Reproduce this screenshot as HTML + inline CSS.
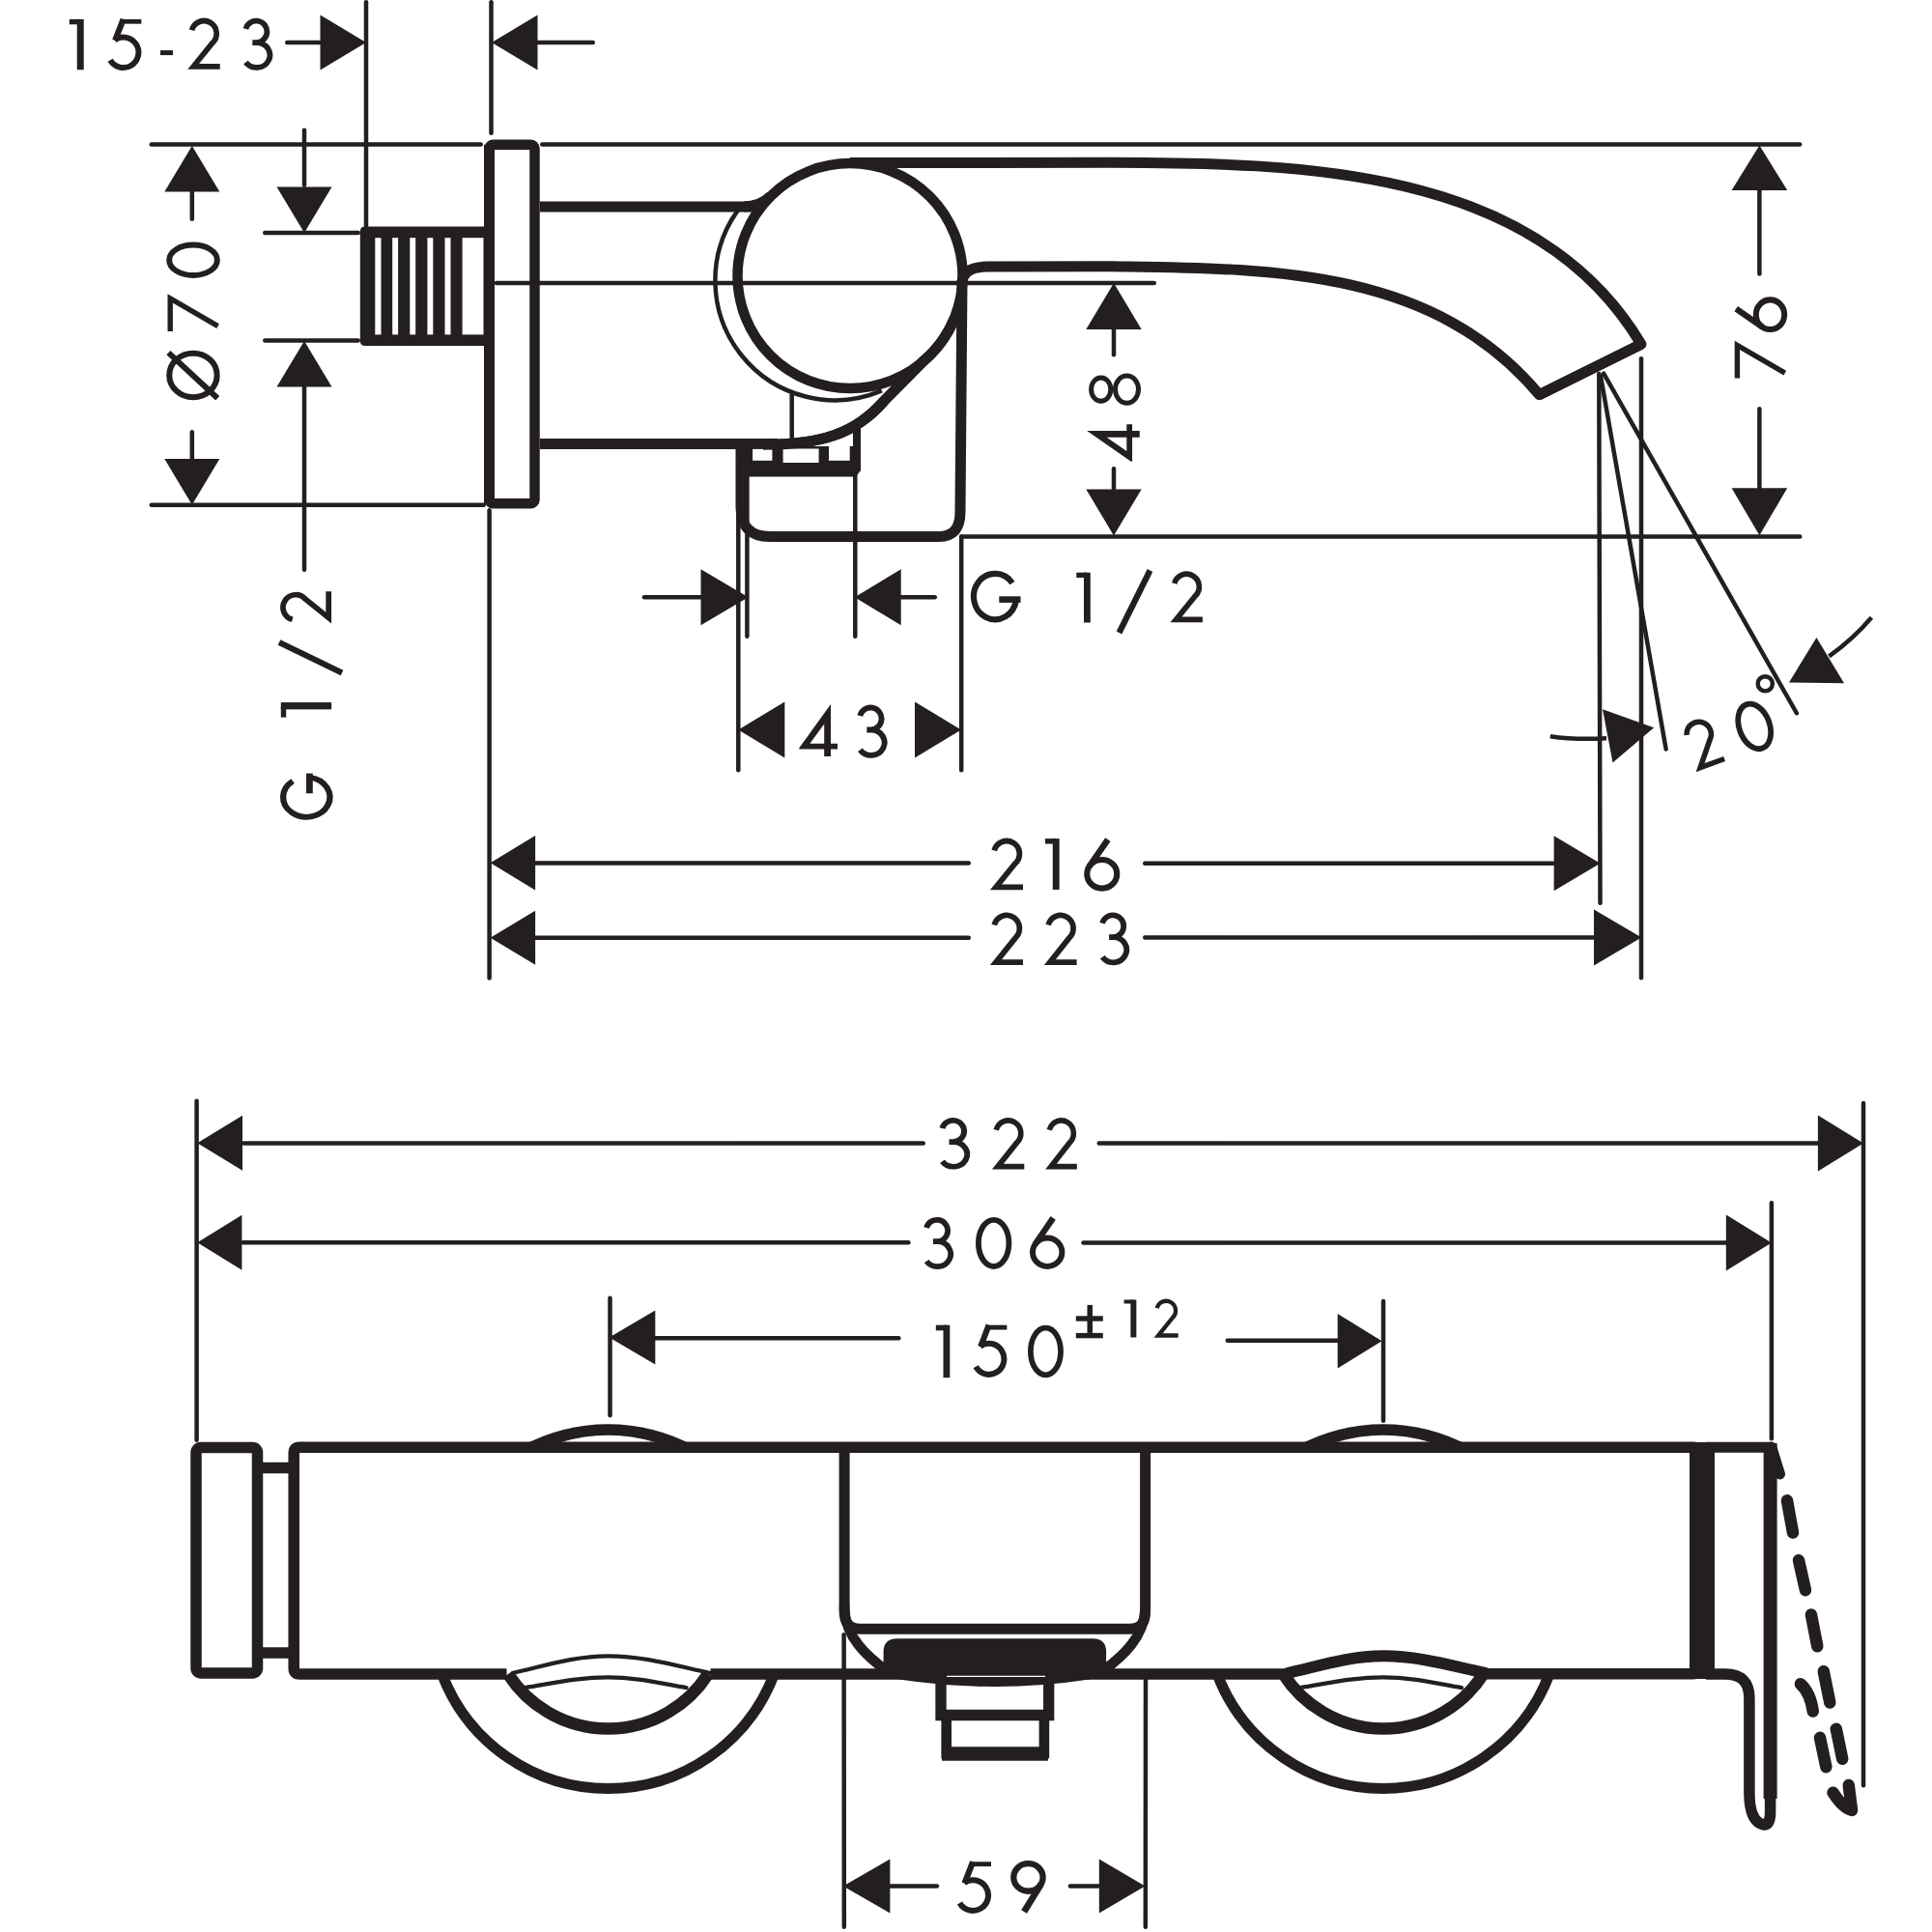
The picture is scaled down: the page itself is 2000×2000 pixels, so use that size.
<!DOCTYPE html>
<html><head><meta charset="utf-8"><style>
html,body{margin:0;padding:0;background:#fff;width:2000px;height:2000px;overflow:hidden;font-family:"Liberation Sans",sans-serif;}
svg{display:block;}
</style></head><body>
<svg xmlns="http://www.w3.org/2000/svg" width="2000" height="2000" viewBox="0 0 2000 2000">
<rect width="2000" height="2000" fill="#fff"/>
<g fill="none" stroke="#231f20" stroke-linecap="butt" stroke-linejoin="miter">
<g fill="#231f20" stroke="none" id="solid"></g>
<g transform="translate(71.8,19.9) scale(1.03,0.98)"><rect x="0" y="0" width="11" height="5.5" fill="#231f20" stroke="none"/><rect x="7.7" y="0" width="6.8" height="53.4" fill="#231f20" stroke="none"/></g>
<g transform="translate(110.9,19.9) scale(0.99,0.99)"><rect x="14.7" y="0" width="21.1" height="4.8" fill="#231f20" stroke="none"/><path d="M16.9,0 L8.31,22.27" stroke-width="6.2"/><path d="M7.91,21.77 A15.85,15.85 0 1 1 3.27,42.67" stroke-width="6"/></g>
<g transform="translate(166,19.9)"><rect x="0" y="32.2" width="13" height="5" fill="#231f20" stroke="none"/></g>
<g transform="translate(194.2,18.7) scale(0.98,0.99)"><path d="M4.45,12.76 A13.3,13.3 0 1 1 26.2,26.08 L6.2,50.6 H34.2" stroke-width="5.8" stroke-linejoin="miter" stroke-miterlimit="4"/></g>
<g transform="translate(250.7,18.7) scale(1,0.99)"><path d="M3.68,11.31 A11.2,11.35 0 1 1 14.5,25.6 H10.6 M10.6,25.6 H15 A13.7,13.1 0 1 1 3.78,46.21" stroke-width="5.8"/></g>
<line x1="297.25" y1="44" x2="330.75" y2="44" stroke-width="4.5" stroke-linecap="round"/>
<polygon fill="#231f20" stroke="none" points="379,44 331.5,15.5 331.5,72.5"/>
<line x1="379" y1="2.25" x2="379" y2="233.75" stroke-width="4.5" stroke-linecap="round"/>
<line x1="508.5" y1="2.25" x2="508.5" y2="137.75" stroke-width="4.5" stroke-linecap="round"/>
<polygon fill="#231f20" stroke="none" points="509,44 556.5,15.5 556.5,72.5"/>
<line x1="557.25" y1="44" x2="613.75" y2="44" stroke-width="4.5" stroke-linecap="round"/>
<line x1="156.75" y1="149.5" x2="497.75" y2="149.5" stroke-width="4.5" stroke-linecap="round"/>
<line x1="561.25" y1="149.5" x2="1863.25" y2="149.5" stroke-width="4.5" stroke-linecap="round"/>
<line x1="156.75" y1="522.7" x2="500.75" y2="522.7" stroke-width="4.5" stroke-linecap="round"/>
<polygon fill="#231f20" stroke="none" points="198.8,151 170.3,198.5 227.3,198.5"/>
<line x1="198.8" y1="198.25" x2="198.8" y2="226.75" stroke-width="4.5" stroke-linecap="round"/>
<g transform="translate(172.2,414.3) rotate(-90)"><ellipse cx="25.85" cy="27.75" rx="22.8" ry="24.7" stroke-width="6"/><path d="M49.2,2.2 L2,53" stroke-width="6"/></g>
<g transform="translate(173.6,343) rotate(-90) scale(1,1)"><path d="M0,2.6 H34 L5.3,52" stroke-width="5.4" stroke-linejoin="miter" stroke-miterlimit="5"/></g>
<g transform="translate(172.2,287.9) rotate(-90) scale(1,1.03)"><ellipse cx="18.65" cy="27" rx="15.75" ry="24.1" stroke-width="5.8"/></g>
<line x1="198.8" y1="447.25" x2="198.8" y2="474.75" stroke-width="4.5" stroke-linecap="round"/>
<polygon fill="#231f20" stroke="none" points="198.8,522.6 170.3,475.1 227.3,475.1"/>
<line x1="315" y1="134.75" x2="315" y2="191.75" stroke-width="4.5" stroke-linecap="round"/>
<polygon fill="#231f20" stroke="none" points="315,241 286.5,193.5 343.5,193.5"/>
<line x1="274.25" y1="241" x2="370.75" y2="241" stroke-width="4.5" stroke-linecap="round"/>
<line x1="274.25" y1="352.5" x2="370.75" y2="352.5" stroke-width="4.5" stroke-linecap="round"/>
<polygon fill="#231f20" stroke="none" points="315,353 286.5,400.5 343.5,400.5"/>
<line x1="315" y1="400.25" x2="315" y2="589.75" stroke-width="4.5" stroke-linecap="round"/>
<g transform="translate(290.1,645.7) rotate(-90) scale(0.98,0.99)"><path d="M4.45,12.76 A13.3,13.3 0 1 1 26.2,26.08 L6.2,50.6 H34.2" stroke-width="5.8" stroke-linejoin="miter" stroke-miterlimit="4"/></g>
<path d="M289,665 L354,696.5" stroke-width="6.2"/>
<g transform="translate(290.8,742.6) rotate(-90) scale(1.07,0.98)"><rect x="0" y="0" width="11" height="5.5" fill="#231f20" stroke="none"/><rect x="7.7" y="0" width="6.8" height="53.4" fill="#231f20" stroke="none"/></g>
<g transform="translate(290.1,848.8) rotate(-90) scale(0.93,1.02)"><path d="M43.28,12.72 A22.1,23.7 0 1 0 47.23,30.36" stroke-width="6.2"/><rect x="29.6" y="26.4" width="22.2" height="6.6" fill="#231f20" stroke="none"/></g>
<rect x="506.5" y="149.8" width="47" height="371.5" rx="4" stroke-width="10.5"/>
<path d="M378,234.6 H503 V358 H378 Q372.8,358 372.8,352.8 V239.8 Q372.8,234.6 378,234.6 Z" fill="#231f20" stroke="none"/>
<rect x="388.3" y="246.2" width="6.2" height="100.2" fill="#fff" stroke="none"/>
<rect x="406.2" y="246.2" width="5.9" height="100.2" fill="#fff" stroke="none"/>
<rect x="424.3" y="246.2" width="5.9" height="100.2" fill="#fff" stroke="none"/>
<rect x="442.4" y="246.2" width="5.9" height="100.2" fill="#fff" stroke="none"/>
<rect x="460.5" y="246.2" width="6" height="100.2" fill="#fff" stroke="none"/>
<rect x="478.6" y="246.2" width="21.9" height="100.2" fill="#fff" stroke="none"/>
<line x1="506.5" y1="149.8" x2="506.5" y2="521.3" stroke-width="11"/>
<line x1="513.95" y1="293" x2="1194.75" y2="293" stroke-width="4.5" stroke-linecap="round"/>
<line x1="559" y1="214" x2="780" y2="214" stroke-width="11"/>
<line x1="559" y1="459.6" x2="805" y2="459.6" stroke-width="11"/>
<path d="M770,214 Q786.8,214 797.6,203.2" stroke-width="11"/>
<circle cx="880" cy="285.6" r="116.5" stroke-width="10.5"/>
<path d="M764.08,217.41 A124,124 0 0 0 912.85,404.44" stroke-width="4.5"/>
<path d="M988,330 A116.5,116.5 0 0 1 954.9,374.8 C940,390 925,405 915.3,414.8 C885.9,448.9 850,460.3 790,460.3" stroke-width="11"/>
<path d="M880,168.6 L1150,168.3 C1340.1,169 1588.6,170.8 1698.9,356.3 L1593.6,408.7" stroke-width="11" stroke-linejoin="round"/>
<path d="M996,292 Q997,276 1023,276 L1150,275.8 C1309.1,278.1 1482.4,275.6 1593.6,408.7 L1698.9,356.3" stroke-width="11" stroke-linejoin="round"/>
<path d="M996,290 L994,530 Q994,555.5 972,555.5 L797,555.5 Q767,555.5 767,525 L767,464" stroke-width="11"/>
<line x1="819.7" y1="408.25" x2="819.7" y2="452.75" stroke-width="4.5" stroke-linecap="round"/>
<path d="M762,462 H891 V487 L886,493.5 H768 L762,487 Z" fill="#231f20" stroke="none"/>
<path d="M883,442 L891,438 V465 H883 Z" fill="#231f20" stroke="none"/>
<rect x="779.1" y="464.9" width="20.3" height="11.9" fill="#fff" stroke="none"/>
<rect x="810.6" y="464.5" width="37" height="14.5" fill="#fff" stroke="none"/>
<rect x="858" y="460" width="21.7" height="16.8" fill="#fff" stroke="none"/>
<path d="M915.3,414.8 C885.9,448.9 850,460.3 790,460.3" stroke-width="11"/>
<line x1="764.3" y1="489.25" x2="764.3" y2="797.25" stroke-width="4.5" stroke-linecap="round"/>
<line x1="773.4" y1="489.25" x2="773.4" y2="658.75" stroke-width="4.5" stroke-linecap="round"/>
<line x1="885.3" y1="489.25" x2="885.3" y2="658.75" stroke-width="4.5" stroke-linecap="round"/>
<line x1="995.2" y1="555.25" x2="995.2" y2="797.25" stroke-width="4.5" stroke-linecap="round"/>
<line x1="997.25" y1="555.6" x2="1863.25" y2="555.6" stroke-width="4.5" stroke-linecap="round"/>
<line x1="666.95" y1="618.3" x2="725.75" y2="618.3" stroke-width="4.5" stroke-linecap="round"/>
<polygon fill="#231f20" stroke="none" points="774.7,618.3 725.5,589.3 725.5,647.3"/>
<polygon fill="#231f20" stroke="none" points="884.7,618.3 932.7,589.3 932.7,647.3"/>
<line x1="932.25" y1="618.3" x2="967.75" y2="618.3" stroke-width="4.5" stroke-linecap="round"/>
<g transform="translate(1004.7,590.9)"><path d="M43.28,12.72 A22.1,23.7 0 1 0 47.23,30.36" stroke-width="6.2"/><rect x="29.6" y="26.4" width="22.2" height="6.6" fill="#231f20" stroke="none"/></g>
<g transform="translate(1114.3,592.7) scale(1,0.97)"><rect x="0" y="0" width="11" height="5.5" fill="#231f20" stroke="none"/><rect x="7.7" y="0" width="6.8" height="53.4" fill="#231f20" stroke="none"/></g>
<path d="M1190.5,590.5 L1158.5,655" stroke-width="6.2"/>
<g transform="translate(1211.4,591.4) scale(0.98,0.99)"><path d="M4.45,12.76 A13.3,13.3 0 1 1 26.2,26.08 L6.2,50.6 H34.2" stroke-width="5.8" stroke-linejoin="miter" stroke-miterlimit="4"/></g>
<polygon fill="#231f20" stroke="none" points="764.3,755.5 812.3,726.5 812.3,784.5"/>
<polygon fill="#231f20" stroke="none" points="995,755.5 947,726.5 947,784.5"/>
<g transform="translate(827.3,729.1)"><path d="M0,45.2 L32.7,0 V40.7 H39.7 V46.4 H32.7 V54 H25.9 V46.4 H0 Z M11.1,40.7 L25.9,20.3 V40.7 Z" fill="#231f20" fill-rule="evenodd" stroke="none"/></g>
<g transform="translate(886.6,729.6) scale(1.01,1.01)"><path d="M3.68,11.31 A11.2,11.35 0 1 1 14.5,25.6 H10.6 M10.6,25.6 H15 A13.7,13.1 0 1 1 3.78,46.21" stroke-width="5.8"/></g>
<polygon fill="#231f20" stroke="none" points="1153,293 1124.3,341 1181.7,341"/>
<line x1="1153" y1="341.25" x2="1153" y2="367.15" stroke-width="4.5" stroke-linecap="round"/>
<g transform="translate(1125.2,477.8) rotate(-90) scale(0.97,1.01)"><path d="M0,45.2 L32.7,0 V40.7 H39.7 V46.4 H32.7 V54 H25.9 V46.4 H0 Z M11.1,40.7 L25.9,20.3 V40.7 Z" fill="#231f20" fill-rule="evenodd" stroke="none"/></g>
<g transform="translate(1127.1,419.7) rotate(-90)"><ellipse cx="16.6" cy="12.6" rx="12.2" ry="10.1" stroke-width="5"/><ellipse cx="16.6" cy="39.4" rx="14.1" ry="12" stroke-width="5"/></g>
<line x1="1153" y1="485.25" x2="1153" y2="505.75" stroke-width="4.5" stroke-linecap="round"/>
<polygon fill="#231f20" stroke="none" points="1153,554.4 1124.3,506.4 1181.7,506.4"/>
<polygon fill="#231f20" stroke="none" points="1821.4,150.5 1792.6,197 1850.2,197"/>
<line x1="1821.4" y1="197.25" x2="1821.4" y2="283.55" stroke-width="4.5" stroke-linecap="round"/>
<g transform="translate(1795.8,391.5) rotate(-90) scale(1,1)"><path d="M0,2.6 H34 L5.3,52" stroke-width="5.4" stroke-linejoin="miter" stroke-miterlimit="5"/></g>
<g transform="translate(1795.4,344.1) rotate(-90) scale(1.01,1)"><ellipse cx="18.2" cy="37.1" rx="15.2" ry="14.7" stroke-width="6"/><path d="M24.2,1.8 L5.4,29.2" stroke-width="6.3"/></g>
<line x1="1821.4" y1="423.25" x2="1821.4" y2="504.75" stroke-width="4.5" stroke-linecap="round"/>
<polygon fill="#231f20" stroke="none" points="1821.4,554.2 1792.6,505.2 1850.2,505.2"/>
<line x1="1655.3" y1="386.95" x2="1656.5" y2="934.75" stroke-width="4.5" stroke-linecap="round"/>
<line x1="1699" y1="371.25" x2="1699" y2="1012.25" stroke-width="4.5" stroke-linecap="round"/>
<line x1="1656.99" y1="389.22" x2="1724.61" y2="775.48" stroke-width="4.5" stroke-linecap="round"/>
<line x1="1660.11" y1="386.66" x2="1859.89" y2="738.24" stroke-width="4.5" stroke-linecap="round"/>
<path d="M1604.8,762.2 Q1630,766 1663,764.3" stroke-width="4.5"/>
<polygon fill="#231f20" stroke="none" points="1659,734.3 1712.2,753.2 1669.5,789.4"/>
<path d="M1937.4,639.3 Q1918,662 1893.4,679.4" stroke-width="4.5"/>
<polygon fill="#231f20" stroke="none" points="1880.4,660 1852,706.6 1909,707.3"/>
<g transform="translate(1762,769.5) rotate(-20) scale(0.95,0.96) translate(-17.1,-26.7)"><path d="M4.45,12.76 A13.3,13.3 0 1 1 26.2,26.08 L6.2,50.6 H34.2" stroke-width="5.8" stroke-linejoin="miter" stroke-miterlimit="4"/></g>
<g transform="translate(1816.2,751.9) rotate(-20) translate(-18.65,-27)"><ellipse cx="18.65" cy="27" rx="15.75" ry="24.1" stroke-width="5.8"/></g>
<circle cx="1827.3" cy="707.8" r="7.6" stroke-width="4.4"/>
<line x1="506.6" y1="528.25" x2="506.6" y2="1012.45" stroke-width="4.5" stroke-linecap="round"/>
<polygon fill="#231f20" stroke="none" points="507.5,893.3 554.1,865.1 554.1,921.5"/>
<line x1="554.25" y1="893.5" x2="1002.75" y2="893.5" stroke-width="4.5" stroke-linecap="round"/>
<g transform="translate(1024.8,867.7)"><path d="M4.45,12.76 A13.3,13.3 0 1 1 26.2,26.08 L6.2,50.6 H34.2" stroke-width="5.8" stroke-linejoin="miter" stroke-miterlimit="4"/></g>
<g transform="translate(1082,868.1) scale(1.01,0.99)"><rect x="0" y="0" width="11" height="5.5" fill="#231f20" stroke="none"/><rect x="7.7" y="0" width="6.8" height="53.4" fill="#231f20" stroke="none"/></g>
<g transform="translate(1122.2,867.3) scale(1.02,1.01)"><ellipse cx="18.2" cy="37.1" rx="15.2" ry="14.7" stroke-width="6"/><path d="M24.2,1.8 L5.4,29.2" stroke-width="6.3"/></g>
<line x1="1185.25" y1="893.7" x2="1608.75" y2="893.7" stroke-width="4.5" stroke-linecap="round"/>
<polygon fill="#231f20" stroke="none" points="1656.6,893.7 1608.6,865.2 1608.6,922.2"/>
<polygon fill="#231f20" stroke="none" points="507.5,970.7 554.1,942.7 554.1,998.7"/>
<line x1="554.25" y1="970.8" x2="1002.75" y2="970.8" stroke-width="4.5" stroke-linecap="round"/>
<g transform="translate(1024.8,944.5) scale(1,1.02)"><path d="M4.45,12.76 A13.3,13.3 0 1 1 26.2,26.08 L6.2,50.6 H34.2" stroke-width="5.8" stroke-linejoin="miter" stroke-miterlimit="4"/></g>
<g transform="translate(1080.8,944.5) scale(0.99,1.02)"><path d="M4.45,12.76 A13.3,13.3 0 1 1 26.2,26.08 L6.2,50.6 H34.2" stroke-width="5.8" stroke-linejoin="miter" stroke-miterlimit="4"/></g>
<g transform="translate(1137.5,944.5)"><path d="M3.68,11.31 A11.2,11.35 0 1 1 14.5,25.6 H10.6 M10.6,25.6 H15 A13.7,13.1 0 1 1 3.78,46.21" stroke-width="5.8"/></g>
<line x1="1185.25" y1="970.5" x2="1649.75" y2="970.5" stroke-width="4.5" stroke-linecap="round"/>
<polygon fill="#231f20" stroke="none" points="1699.3,970.5 1650,941.5 1650,999.5"/>
<line x1="203.6" y1="1139.75" x2="203.6" y2="1490.75" stroke-width="4.5" stroke-linecap="round"/>
<line x1="1929" y1="1142.05" x2="1929" y2="1848.35" stroke-width="4.5" stroke-linecap="round"/>
<line x1="1833.9" y1="1245.25" x2="1833.9" y2="1489.15" stroke-width="4.5" stroke-linecap="round"/>
<polygon fill="#231f20" stroke="none" points="204.3,1183.3 251,1154.8 251,1211.8"/>
<line x1="252.25" y1="1183.4" x2="955.75" y2="1183.4" stroke-width="4.5" stroke-linecap="round"/>
<g transform="translate(971.6,1157) scale(1.03,0.98)"><path d="M3.68,11.31 A11.2,11.35 0 1 1 14.5,25.6 H10.6 M10.6,25.6 H15 A13.7,13.1 0 1 1 3.78,46.21" stroke-width="5.8"/></g>
<g transform="translate(1026.8,1157) scale(0.98,1)"><path d="M4.45,12.76 A13.3,13.3 0 1 1 26.2,26.08 L6.2,50.6 H34.2" stroke-width="5.8" stroke-linejoin="miter" stroke-miterlimit="4"/></g>
<g transform="translate(1082,1157) scale(0.96,1)"><path d="M4.45,12.76 A13.3,13.3 0 1 1 26.2,26.08 L6.2,50.6 H34.2" stroke-width="5.8" stroke-linejoin="miter" stroke-miterlimit="4"/></g>
<line x1="1137.75" y1="1183.5" x2="1881.75" y2="1183.5" stroke-width="4.5" stroke-linecap="round"/>
<polygon fill="#231f20" stroke="none" points="1929,1183.6 1881.9,1154.6 1881.9,1212.6"/>
<polygon fill="#231f20" stroke="none" points="204.3,1286.3 250.4,1257.8 250.4,1314.8"/>
<line x1="251.25" y1="1286.3" x2="940.35" y2="1286.3" stroke-width="4.5" stroke-linecap="round"/>
<g transform="translate(955.4,1259.9) scale(1,0.99)"><path d="M3.68,11.31 A11.2,11.35 0 1 1 14.5,25.6 H10.6 M10.6,25.6 H15 A13.7,13.1 0 1 1 3.78,46.21" stroke-width="5.8"/></g>
<g transform="translate(1010,1259.9) scale(1,1)"><ellipse cx="18.65" cy="27" rx="15.75" ry="24.1" stroke-width="5.8"/></g>
<g transform="translate(1066,1259.1)"><ellipse cx="18.2" cy="37.1" rx="15.2" ry="14.7" stroke-width="6"/><path d="M24.2,1.8 L5.4,29.2" stroke-width="6.3"/></g>
<line x1="1121.45" y1="1286.5" x2="1786.75" y2="1286.5" stroke-width="4.5" stroke-linecap="round"/>
<polygon fill="#231f20" stroke="none" points="1833.9,1286.5 1786.8,1257.5 1786.8,1315.5"/>
<line x1="631.5" y1="1343.65" x2="631.5" y2="1465.25" stroke-width="4.5" stroke-linecap="round"/>
<polygon fill="#231f20" stroke="none" points="630.7,1384.5 678.3,1356.5 678.3,1412.5"/>
<line x1="678.25" y1="1385.2" x2="930.35" y2="1385.2" stroke-width="4.5" stroke-linecap="round"/>
<g transform="translate(968.8,1371.7) scale(1,1.02)"><rect x="0" y="0" width="11" height="5.5" fill="#231f20" stroke="none"/><rect x="7.7" y="0" width="6.8" height="53.4" fill="#231f20" stroke="none"/></g>
<g transform="translate(1006.9,1371.7) scale(0.99,1.01)"><rect x="14.7" y="0" width="21.1" height="4.8" fill="#231f20" stroke="none"/><path d="M16.9,0 L8.31,22.27" stroke-width="6.2"/><path d="M7.91,21.77 A15.85,15.85 0 1 1 3.27,42.67" stroke-width="6"/></g>
<g transform="translate(1064,1371.7) scale(0.99,1.01)"><ellipse cx="18.65" cy="27" rx="15.75" ry="24.1" stroke-width="5.8"/></g>
<g transform="translate(1113.8,1350.9)"><rect x="11.7" y="0" width="5.5" height="29" fill="#231f20" stroke="none"/><rect x="0" y="11.4" width="28" height="5.4" fill="#231f20" stroke="none"/><rect x="0" y="29" width="28" height="5.4" fill="#231f20" stroke="none"/></g>
<g transform="translate(1163.6,1345.5) scale(0.88,0.73)"><rect x="0" y="0" width="11" height="5.5" fill="#231f20" stroke="none"/><rect x="7.7" y="0" width="6.8" height="53.4" fill="#231f20" stroke="none"/></g>
<g transform="translate(1194.4,1344.6) scale(0.74,0.75)"><path d="M4.45,12.76 A13.3,13.3 0 1 1 26.2,26.08 L6.2,50.6 H34.2" stroke-width="5.8" stroke-linejoin="miter" stroke-miterlimit="4"/></g>
<line x1="1270.75" y1="1387.7" x2="1384.75" y2="1387.7" stroke-width="4.5" stroke-linecap="round"/>
<polygon fill="#231f20" stroke="none" points="1430.5,1388.3 1384.7,1360.1 1384.7,1416.5"/>
<line x1="1432" y1="1347.05" x2="1432" y2="1470.75" stroke-width="4.5" stroke-linecap="round"/>
<rect x="203" y="1498.5" width="63.5" height="233.5" rx="5" stroke-width="11.5"/>
<line x1="266" y1="1519.4" x2="305" y2="1519.4" stroke-width="11.5"/>
<line x1="266" y1="1711" x2="305" y2="1711" stroke-width="11.5"/>
<path d="M540,1497 A186.9,186.9 0 0 1 719,1497 Z" fill="#231f20" stroke="none"/>
<path d="M580.7,1493 A171.4,171.4 0 0 1 678.3,1493 Z" fill="#fff" stroke="none"/>
<path d="M457.55,1733 A184,184 0 0 0 801.45,1733" stroke-width="11"/>
<path d="M526.03,1733 A123,123 0 0 0 732.97,1733" stroke-width="12.5"/>
<path d="M530.5,1732 C565.15,1724.04 594.85,1714.3 629.5,1714.3 C666.6,1714.3 698.4,1724.04 735.5,1732" stroke-width="4.3" stroke-linecap="round"/>
<path d="M543.5,1747.2 C573.6,1742.34 599.4,1736.4 629.5,1736.4 C657.85,1736.4 682.15,1742.34 710.5,1747.2" stroke-width="4.3" stroke-linecap="round"/>
<path d="M1342.5,1497 A186.9,186.9 0 0 1 1521.5,1497 Z" fill="#231f20" stroke="none"/>
<path d="M1383.2,1493 A171.4,171.4 0 0 1 1480.8,1493 Z" fill="#fff" stroke="none"/>
<path d="M1260.05,1733 A184,184 0 0 0 1603.95,1733" stroke-width="11"/>
<path d="M1328.53,1733 A123,123 0 0 0 1535.47,1733" stroke-width="12.5"/>
<path d="M1333,1732 C1367.65,1724.04 1397.35,1714.3 1432,1714.3 C1469.1,1714.3 1500.9,1724.04 1538,1732" stroke-width="12" stroke-linecap="round"/>
<path d="M1346,1747.2 C1376.1,1742.34 1401.9,1736.4 1432,1736.4 C1460.35,1736.4 1484.65,1742.34 1513,1747.2" stroke-width="4.3" stroke-linecap="round"/>
<path d="M310,1498.2 H1752 Q1761,1498.2 1761,1507 V1724 Q1761,1732.8 1752,1732.8 H1538" stroke-width="11.5"/>
<path d="M1333,1733 H735.5 M524.5,1733 H310 Q304.2,1733 304.2,1727 V1504 Q304.2,1498.2 310,1498.2" stroke-width="11.5"/>
<rect x="1749" y="1493" width="26" height="245" fill="#231f20" stroke="none"/>
<path d="M874.1,1498 V1668 Q874.1,1686.2 890,1686.2 H1170 Q1185.6,1686.2 1185.6,1668 V1498" stroke-width="11"/>
<path d="M874.1,1662 L874.1,1666 C875.7,1694.8 896.7,1714.2 918,1729.8" stroke-width="10.5"/>
<path d="M1185.6,1662 L1185.6,1666 C1184,1694.8 1163,1714.2 1141.7,1729.8" stroke-width="10.5"/>
<path d="M929,1696.3 H1131 Q1145.1,1696.3 1145.1,1710 V1722 Q1145.1,1733 1127.5,1738.6 Q1080,1746 1030,1746 Q980,1746 930.4,1738.6 Q914.6,1733 914.6,1722 V1710 Q914.6,1696.3 929,1696.3 Z" fill="#231f20" stroke="none"/>
<line x1="980" y1="1735.3" x2="1082" y2="1735.3" stroke="#fff" stroke-width="1.3"/>
<path d="M974,1740 V1775.5 H1085.7 V1740" stroke="#231f20" stroke-width="11.3"/>
<path d="M979.7,1776 V1815 H1080.9 V1776" stroke-width="10.6"/>
<line x1="975" y1="1815.5" x2="1085" y2="1815.5" stroke-width="14.5"/>
<line x1="873.6" y1="1692.25" x2="873.8" y2="1994.75" stroke-width="4.5" stroke-linecap="round"/>
<line x1="1186" y1="1737.25" x2="1185.8" y2="1994.75" stroke-width="4.5" stroke-linecap="round"/>
<polygon fill="#231f20" stroke="none" points="872.8,1952.5 921.4,1924.5 921.4,1980.5"/>
<line x1="921.25" y1="1952.5" x2="969.95" y2="1952.5" stroke-width="4.5" stroke-linecap="round"/>
<g transform="translate(990.2,1927.3)"><rect x="14.7" y="0" width="21.1" height="4.8" fill="#231f20" stroke="none"/><path d="M16.9,0 L8.31,22.27" stroke-width="6.2"/><path d="M7.91,21.77 A15.85,15.85 0 1 1 3.27,42.67" stroke-width="6"/></g>
<g transform="translate(1046.1,1926)"><ellipse cx="18.35" cy="17.45" rx="15.15" ry="14.3" stroke-width="6.3"/><path d="M31.6,24.5 L14,53" stroke-width="6.8"/></g>
<line x1="1107.95" y1="1952.5" x2="1137.75" y2="1952.5" stroke-width="4.5" stroke-linecap="round"/>
<polygon fill="#231f20" stroke="none" points="1185.4,1952.5 1137.8,1924.5 1137.8,1980.5"/>
<path d="M1766,1498.2 H1833" stroke-width="11"/>
<path d="M1833.8,1498 L1842.5,1526" stroke-width="11" stroke-linecap="round"/>
<path d="M1832.6,1494 V1876 Q1832.6,1889 1826,1889 Q1811,1886 1810.9,1856 V1758 Q1810.9,1733 1786,1733 H1766" stroke-width="11.5" stroke-linejoin="round"/>
<path d="M1832.6,1494 V1862" stroke-width="14"/>
<line x1="1850" y1="1553.3" x2="1856" y2="1586.7" stroke-width="12.5" stroke-linecap="round"/>
<line x1="1862" y1="1615.2" x2="1869" y2="1646.2" stroke-width="12.5" stroke-linecap="round"/>
<line x1="1874.9" y1="1671.4" x2="1881.3" y2="1704.3" stroke-width="12.5" stroke-linecap="round"/>
<line x1="1887.8" y1="1730.2" x2="1894.3" y2="1762.6" stroke-width="12.5" stroke-linecap="round"/>
<line x1="1900.8" y1="1789.8" x2="1907.2" y2="1820.8" stroke-width="12.5" stroke-linecap="round"/>
<line x1="1884" y1="1798.8" x2="1890.4" y2="1829.2" stroke-width="12.5" stroke-linecap="round"/>
<path d="M1863.9,1743.2 Q1874,1752 1876.8,1771.6" stroke-width="12.5" stroke-linecap="round"/>
<path d="M1897.5,1855.7 Q1908,1872 1917,1873.9 L1913.7,1848" stroke-width="12.5" stroke-linecap="round" stroke-linejoin="round"/>
</g>
</svg>
</body></html>
